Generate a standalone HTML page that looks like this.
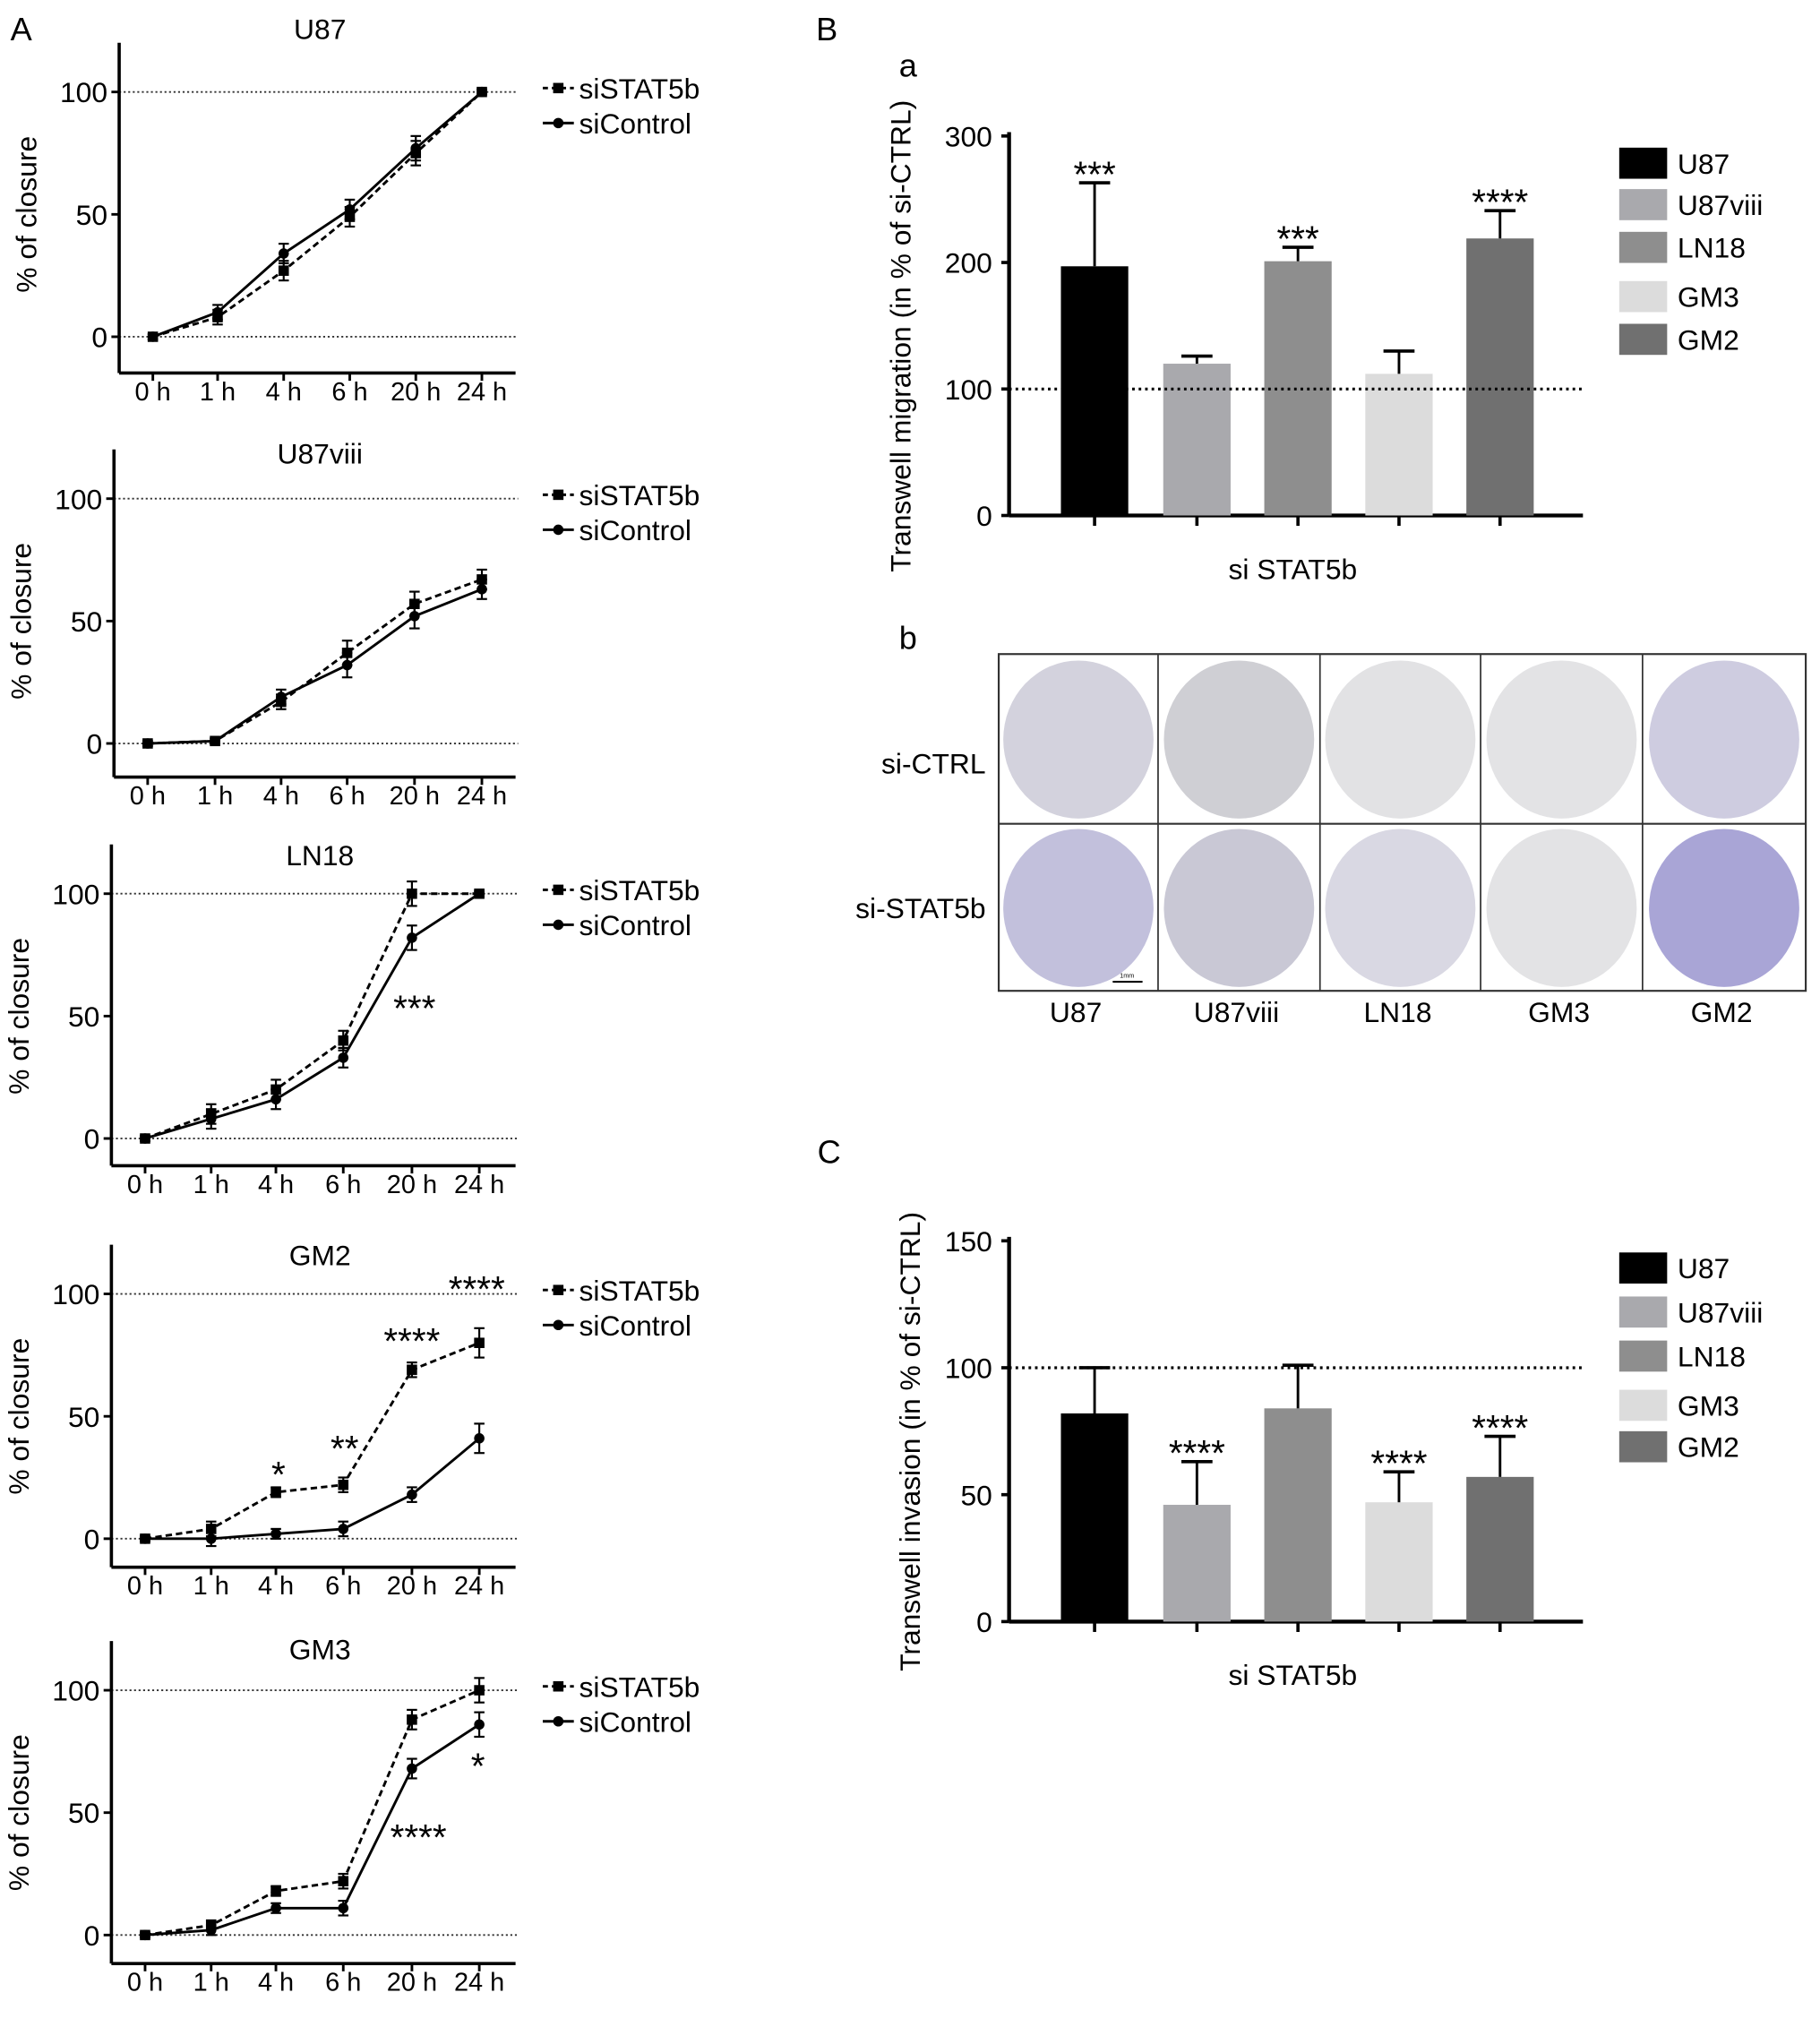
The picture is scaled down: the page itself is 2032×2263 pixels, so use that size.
<!DOCTYPE html>
<html><head><meta charset="utf-8"><style>
html,body{margin:0;padding:0;background:#fff;}
svg{display:block;font-family:"Liberation Sans",sans-serif;}
</style></head><body>
<svg id="fig" width="2032" height="2263" viewBox="0 0 1405 1565" preserveAspectRatio="none" xmlns="http://www.w3.org/2000/svg">
<text x="8" y="31" font-size="25">A</text>
<text x="630" y="31" font-size="25">B</text>
<text x="694" y="59" font-size="25">a</text>
<text x="694" y="501" font-size="25">b</text>
<text x="631" y="898" font-size="25">C</text>
<g id="root"></g>
</svg>
<script>
const timeLabels = ["0 h","1 h","4 h","6 h","20 h","24 h"];
const u87Stat = [0,8,27,49,75,100], u87Ctrl = [0,10,34,52,77,100];
const u87Err = [1,3,4,4,5,1];
const u87viiiStat = [0,1,17,37,57,67], u87viiiCtrl = [0,1,19,32,52,63];
const u87viiiErr = [1,1,3,5,5,4];
const ln18Stat = [0,10,20,40,100,100], ln18Ctrl = [0,8,16,33,82,100];
const ln18Err = [1,4,4,4,5,1];
const gm2Stat = [0,4,19,22,69,80], gm2Ctrl = [0,0,2,4,18,41];
const gm2Err = [1,3,2,3,3,6];
const gm3Stat = [0,4,18,22,88,100], gm3Ctrl = [0,2,11,11,68,86];
const gm3Err = [1,2,2,3,4,5];
const cellLines = ["U87","U87viii","LN18","GM3","GM2"];
const barColors = ["#000000","#a9a9ad","#8e8e8e","#dcdcdc","#707070"];
const migVals = [197,120,201,112,219], migErr = [66,6,11,18,22], migStars = ["***","","***","","****"];
const invVals = [82,46,84,47,57], invErr = [18,17,17,12,16], invStars = ["","****","","****","****"];
const plateTop = ["#d3d2dd","#cfcfd4","#e2e2e4","#e3e3e5","#cecce0"];
const plateBot = ["#c2c0dc","#c9c8d5","#d9d8e3","#e3e3e5","#a9a5d6"];

const NS="http://www.w3.org/2000/svg", root=document.getElementById('root');
function el(tag, attrs, parent){const e=document.createElementNS(NS,tag);for(const k in attrs)e.setAttribute(k,attrs[k]);(parent||root).appendChild(e);return e;}
function txt(x,y,s,size,anchor,parent){const t=el('text',{x:x,y:y,'font-size':size,'text-anchor':anchor||'start'},parent);t.textContent=s;return t;}
const FS=22;

const lineCharts=[
 {name:"U87",ty:22,stat:u87Stat,ctrl:u87Ctrl,err:u87Err,ax:92,y100:71,y0:260,xa:288,tx:[118,168,219,270,321,372],stars:[]},
 {name:"U87viii",ty:350,stat:u87viiiStat,ctrl:u87viiiCtrl,err:u87viiiErr,ax:88,y100:385,y0:574,xa:600,tx:[114,166,217,268,320,372],stars:[]},
 {name:"LN18",ty:660,stat:ln18Stat,ctrl:ln18Ctrl,err:ln18Err,ax:86,y100:690,y0:879,xa:900,tx:[112,163,213,265,318,370],stars:[[320,773,"***"]]},
 {name:"GM2",ty:969,stat:gm2Stat,ctrl:gm2Ctrl,err:gm2Err,ax:86,y100:999,y0:1188,xa:1210,tx:[112,163,213,265,318,370],stars:[[215,1133,"*"],[266,1113,"**"],[318,1030,"****"],[368,990,"****"]]},
 {name:"GM3",ty:1273,stat:gm3Stat,ctrl:gm3Ctrl,err:gm3Err,ax:86,y100:1305,y0:1494,xa:1516,tx:[112,163,213,265,318,370],stars:[[323,1413,"****"],[369,1358,"*"]]}
];
lineCharts.forEach(c=>{
 const g=el('g',{});
 
 
 const ys=v=>c.y0+(c.y100-c.y0)*v/100;
 const t=txt(247,c.ty+8,c.name,FS,'middle',g);
 
 [0,100].forEach(v=>el('line',{x1:c.ax,x2:400,y1:ys(v),y2:ys(v),stroke:'#333','stroke-width':1.3,'stroke-dasharray':'1.5 2'},g));
 el('line',{x1:c.ax,x2:c.ax,y1:c.y100-38,y2:c.xa,stroke:'#000','stroke-width':2.5},g);
 el('line',{x1:c.ax,x2:398,y1:c.xa,y2:c.xa,stroke:'#000','stroke-width':2.5},g);
 [0,50,100].forEach(v=>{el('line',{x1:c.ax-6,x2:c.ax,y1:ys(v),y2:ys(v),stroke:'#000','stroke-width':2},g);txt(c.ax-9,ys(v)+8,String(v),FS,'end',g);});
 c.tx.forEach((x,i)=>{el('line',{x1:x,x2:x,y1:c.xa,y2:c.xa+6,stroke:'#000','stroke-width':2},g);txt(x,c.xa+21,timeLabels[i],20,'middle',g);});
 const yt=txt(0,0,"% of closure",FS,'middle',g);
 yt.setAttribute('transform','translate('+(c.ax-64)+','+((c.y100+c.y0)/2)+') rotate(-90)');
 
 [[c.stat,'5 3','sq'],[c.ctrl,'','ci']].forEach(([d,dash,m])=>{
  el('polyline',{points:d.map((v,i)=>c.tx[i]+','+ys(v)).join(' '),fill:'none',stroke:'#000','stroke-width':2,'stroke-dasharray':dash},g);
  d.forEach((v,i)=>{
   const e=c.err[i],y=ys(v),y1=ys(v+e),y2=ys(v-e);
   el('line',{x1:c.tx[i],x2:c.tx[i],y1:y1,y2:y2,stroke:'#000','stroke-width':1.5},g);
   el('line',{x1:c.tx[i]-4,x2:c.tx[i]+4,y1:y1,y2:y1,stroke:'#000','stroke-width':1.5},g);
   el('line',{x1:c.tx[i]-4,x2:c.tx[i]+4,y1:y2,y2:y2,stroke:'#000','stroke-width':1.5},g);
   if(m==='sq')el('rect',{x:c.tx[i]-4,y:y-4,width:8,height:8,fill:'#000'},g);
   else el('circle',{cx:c.tx[i],cy:y,r:4,fill:'#000'},g);
  });
 });
 c.stars.forEach(s=>txt(s[0],s[1]+15,s[2],28,'middle',g));
 const ly1=c.y100-3, ly2=ly1+27;
 el('line',{x1:419,x2:443,y1:ly1,y2:ly1,stroke:'#000','stroke-width':2,'stroke-dasharray':'4 3'},g);
 el('rect',{x:427,y:ly1-4,width:8,height:8,fill:'#000'},g);
 el('line',{x1:419,x2:443,y1:ly2,y2:ly2,stroke:'#000','stroke-width':2},g);
 el('circle',{cx:431,cy:ly2,r:4,fill:'#000'},g);
 txt(447,ly1+8,"siSTAT5b",FS,'start',g);
 txt(447,ly2+8,"siControl",FS,'start',g);
});

function barChart(name,vals,errs,stars,y0,yTop,maxV,ticks,title,legY){
 const g=el('g',{});
 
 
 const ys=v=>y0+(yTop-y0)*v/maxV;
 const cx=[845,924,1002,1080,1158];
 el('line',{x1:779,x2:779,y1:yTop-3,y2:y0,stroke:'#000','stroke-width':3},g);
 el('line',{x1:779,x2:1222,y1:y0,y2:y0,stroke:'#000','stroke-width':3},g);
 ticks.forEach(v=>{el('line',{x1:773,x2:779,y1:ys(v),y2:ys(v),stroke:'#000','stroke-width':2.5},g);txt(766,ys(v)+8,String(v),FS,'end',g);});
 vals.forEach((v,i)=>{
  const b=el('rect',{x:cx[i]-26,y:ys(v),width:52,height:y0-ys(v),fill:barColors[i]},g);
  
  
  const ye=ys(v+errs[i]);
  el('line',{x1:cx[i],x2:cx[i],y1:ys(v),y2:ye,stroke:'#000','stroke-width':2},g);
  el('line',{x1:cx[i]-12,x2:cx[i]+12,y1:ye,y2:ye,stroke:'#000','stroke-width':2.5},g);
  el('line',{x1:cx[i],x2:cx[i],y1:y0,y2:y0+8,stroke:'#000','stroke-width':2.5},g);
  if(stars[i])txt(cx[i],ye+3,stars[i],28,'middle',g);
 });
 el('line',{x1:779,x2:1222,y1:ys(100),y2:ys(100),stroke:'#000','stroke-width':2.2,'stroke-dasharray':'2 3'},g);
 const yt=txt(0,0,title,FS,'middle',g);
 yt.setAttribute('transform','translate('+(name==='migration-chart'?703:710)+','+((y0+yTop)/2+8)+') rotate(-90)');
 
 const xt=txt(998,y0+49,"si STAT5b",FS,'middle',g);
 
 cellLines.forEach((n,i)=>{
  el('rect',{x:1250,y:legY[i]-12,width:37,height:24,fill:barColors[i]},g);
  txt(1295,legY[i]+8,n,FS,'start',g);
 });
}
barChart('migration-chart',migVals,migErr,migStars,398,105,300,[0,100,200,300],"Transwell migration (in % of si-CTRL)",[126,158,191,229,262]);
barChart('invasion-chart',invVals,invErr,invStars,1252,958,150,[0,50,100,150],"Transwell invasion (in % of si-CTRL)",[979,1013,1047,1085,1117]);

const pg=el('g',{});


const colX=[771,894,1019,1143,1268,1394];
el('rect',{x:771,y:505,width:623,height:260,fill:'#fff',stroke:'#333','stroke-width':1.5},pg);
el('line',{x1:771,x2:1394,y1:636,y2:636,stroke:'#333','stroke-width':1.5},pg);
colX.slice(1,5).forEach(x=>el('line',{x1:x,x2:x,y1:505,y2:765,stroke:'#333','stroke-width':1.2},pg));
for(let i=0;i<5;i++){
 const cx=(colX[i]+colX[i+1])/2;
 el('ellipse',{cx:cx,cy:571,rx:58,ry:61,fill:plateTop[i]},pg);
 el('ellipse',{cx:cx,cy:701,rx:58,ry:61,fill:plateBot[i]},pg);
 txt(cx-2,789,cellLines[i],FS,'middle',pg);
}
el('line',{x1:859,x2:882,y1:758,y2:758,stroke:'#000','stroke-width':1.5},pg);
txt(870,755,"1mm",5,'middle',pg);
txt(761,597,"si-CTRL",FS,'end',pg);
txt(761,709,"si-STAT5b",FS,'end',pg);
</script>
</body></html>
